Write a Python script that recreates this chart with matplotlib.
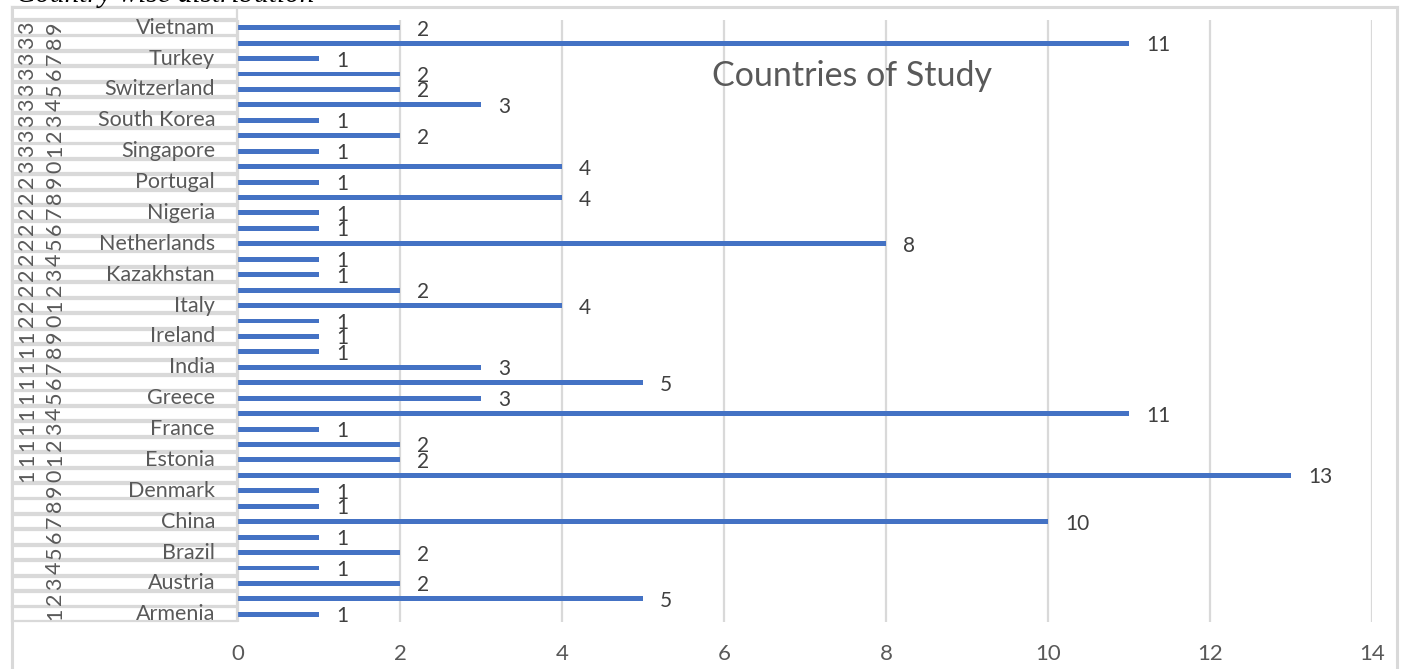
import numpy as np
import matplotlib.pyplot as plt
from matplotlib.patches import Rectangle

plt.rcParams['font.family'] = ['Lato', 'DejaVu Sans']

# ---- data ----
countries = ['Armenia', 'Austria', 'Brazil', 'China', 'Denmark', 'Estonia', 'France',
             'Greece', 'India', 'Ireland', 'Italy', 'Kazakhstan', 'Netherlands', 'Nigeria',
             'Portugal', 'Singapore', 'South Korea', 'Switzerland', 'Turkey', 'Vietnam']
values = [1, 5, 2, 1, 2, 1, 10, 1, 1, 13,
          2, 2, 1, 11, 3, 5, 3, 1, 1, 1,
          4, 2, 1, 1, 8, 1, 1, 4, 1, 4,
          1, 2, 1, 3, 2, 2, 1, 11, 2]
rows = np.arange(1, len(values) + 1)
xticks = [0, 2, 4, 6, 8, 10, 12, 14]

W, H = 1402, 669
blue = '#4472C4'
grey_txt = '#595959'
grey_line = '#D9D9D9'

fig = plt.figure(figsize=(W / 100, H / 100), dpi=100)

# main plot area (pixels): x 238..1372, y 20..622
ax = fig.add_axes([238 / W, 1 - 622 / H, (1372 - 238) / W, (622 - 20) / H])
ax.barh(rows, values, height=0.32, color=blue, zorder=3)
for r, v in zip(rows, values):
    ax.annotate(str(v), (v, r), xytext=(17, -2), textcoords='offset pixels',
                ha='left', va='center', fontsize=15, color='#404040')
ax.set_xlim(0, 14)
ax.set_ylim(0.5, len(values) + 0.5)
ax.set_xticks(xticks)
ax.set_yticks([])
ax.tick_params(axis='x', length=0, pad=16, labelsize=16, labelcolor=grey_txt)
ax.grid(axis='x', color=grey_line, linewidth=1.6, zorder=0)
for s in ax.spines.values():
    s.set_visible(False)
ax.text(0.5417, 0.907, 'Countries of Study', transform=ax.transAxes,
        ha='center', va='center', fontsize=24.5, color=grey_txt)

# category table on the left, sharing rows with the bars
lax = fig.add_axes([0, 1 - 622 / H, 238 / W, (622 - 20) / H], sharey=ax)
lax.set_xlim(0, 238)
lax.axis('off')
for r in rows:
    lax.add_patch(Rectangle((12, r - 0.44), 225, 0.88, fill=False,
                            edgecolor=grey_line, linewidth=1.6, clip_on=False))
    digits = str(r)
    if len(digits) == 2:
        lax.text(27, r, digits[0], rotation=90, ha='center', va='center',
                 fontsize=15.5, color=grey_txt)
    lax.text(55, r, digits[-1], rotation=90, ha='center', va='center',
             fontsize=15.5, color=grey_txt)
for i, name in enumerate(countries):
    lax.text(215, 2 * i + 1, name, ha='right', va='center', fontsize=15.5, color=grey_txt)

# chart frame and header cell, in pixel coordinates
frame = fig.add_axes([0, 0, 1, 1], zorder=-1)
frame.set_xlim(0, W)
frame.set_ylim(H, 0)
frame.axis('off')
frame.plot([12, 1397], [7, 7], color=grey_line, linewidth=2.2)
frame.plot([12, 12], [7, H], color=grey_line, linewidth=2.2)
frame.plot([1397, 1397], [7, H], color=grey_line, linewidth=2.2)
frame.add_patch(Rectangle((12, 7), 225, 12, fill=False, edgecolor=grey_line, linewidth=1.6))
frame.text(16, 2, 'Country wise distribution', ha='left', va='baseline',
           fontsize=21, style='italic', family='Liberation Serif', color='black')

fig.savefig('out.png', dpi=100)
